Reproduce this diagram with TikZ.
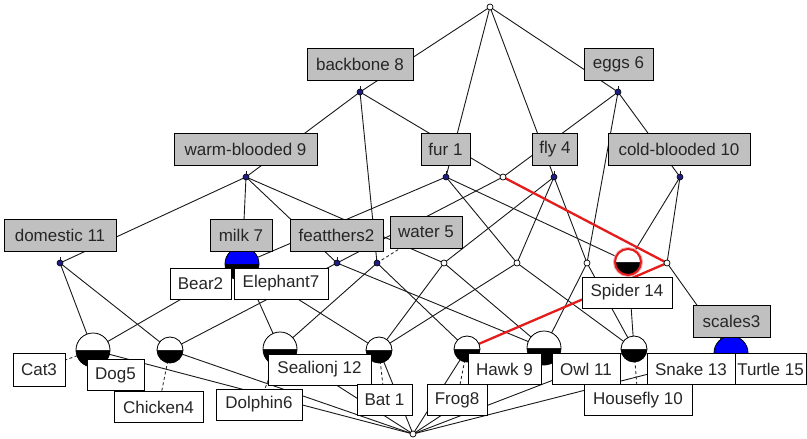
\documentclass[tikz,border=0pt]{standalone}
\usepackage{fontspec}
\setmainfont{Liberation Sans}
\definecolor{attrgray}{RGB}{192,192,192}
\definecolor{hired}{RGB}{228,28,28}
\definecolor{nodeblue}{RGB}{0,0,255}
\definecolor{smallblue}{RGB}{30,30,130}
\newcommand\bigconcept[5]{%
  \fill[black] (#1) circle[radius=#4pt];
  \fill[#5] ([xshift=-#4pt]#1) arc[start angle=180,end angle=0,radius=#4pt] -- cycle;
  \draw[line width=0.8pt] (#1) circle[radius=#4pt];
  \node[circle,inner sep=0pt,minimum size=#3pt] (#2) at (#1) {};
}
\begin{document}
\begin{tikzpicture}[x=1pt,y=-1pt,
  edge/.style={draw=black!90, line width=0.9pt},
  hledge/.style={draw=hired, line width=2.3pt},
  conn/.style={draw=black!85, line width=0.85pt, dash pattern=on 3pt off 2.5pt},
  smallattr/.style={circle, draw=black, fill=smallblue, inner sep=0pt, minimum size=6pt, line width=0.6pt},
  smallplain/.style={circle, draw=black, fill=white, inner sep=0pt, minimum size=6pt, line width=0.7pt},
  lbl/.style={draw=black, line width=0.9pt, inner xsep=2pt, inner ysep=0pt, minimum height=32pt,
    font=\fontsize{17pt}{20pt}\selectfont, text=black!85},
  attrlbl/.style={lbl, fill=attrgray},
  objlbl/.style={lbl, fill=white, minimum height=31pt},
]
\useasboundingbox[fill=white] (0,0) rectangle (807,439);
% concept positions
\coordinate (T) at (490,7);
\coordinate (B) at (360,92);
\coordinate (E) at (618,92);
\coordinate (W) at (246,177);
\coordinate (F) at (446,177);
\coordinate (X) at (503,177);
\coordinate (Fl) at (554,177);
\coordinate (C) at (680,177);
\coordinate (D) at (60,263);
\coordinate (M) at (242,264);
\coordinate (Fe) at (337,263);
\coordinate (Wa) at (377,263);
\coordinate (N1) at (444,263);
\coordinate (N2) at (517,263);
\coordinate (N3) at (587,263);
\coordinate (Sp) at (628,262);
\coordinate (Y) at (667,263);
\coordinate (Dg) at (93,350);
\coordinate (Ch) at (170,350);
\coordinate (Se) at (280,349);
\coordinate (Bt) at (379,350);
\coordinate (Fr) at (467,349);
\coordinate (Ow) at (544,348);
\coordinate (Hf) at (634,349);
\coordinate (Sc) at (731,353);
\coordinate (Bot) at (413,434);
% label centres
\coordinate (cwater) at (426,232);
\coordinate (ccat) at (39,369.5);
\coordinate (cchicken) at (158.5,407);
\coordinate (cdolphin) at (259,404.5);
\coordinate (cbat) at (384.5,399.5);
\coordinate (cfrog) at (457,400);
\coordinate (chousefly) at (638,400);
% edges
\foreach \a/\b in {T/B,T/F,T/Fl,T/E,B/W,B/X,B/Wa,E/X,E/N3,E/C,W/D,W/M,W/Fe,W/N1,
  F/M,F/Sp,F/N2,X/Fe,Fl/N1,Fl/N2,Fl/N3,C/Y,C/Sp,D/Dg,D/Ch,M/Dg,M/Se,M/Bt,Fe/Ch,Fe/Ow,
  Wa/Se,Wa/Fr,N1/Bt,N1/Ow,N2/Bt,N2/Hf,N3/Ow,N3/Hf,Sp/Hf,Y/Sc,
  Bot/Dg,Bot/Ch,Bot/Se,Bot/Bt,Bot/Fr,Bot/Ow,Bot/Hf,Bot/Sc}
  \draw[edge] (\a) -- (\b);
\draw[hledge, line join=round] (X) -- (Y) -- (Fr);
% ticks above attribute nodes
\foreach \a in {B,E,W,F,Fl,C,D,Fe}
  \draw[edge] (\a) -- ++(0,-6);
% dashed label connectors
\draw[conn] (Wa) -- (cwater);
\draw[conn] (Dg) -- (ccat);
\draw[conn] (Ch) -- (cchicken);
\draw[conn] (Se) -- (cdolphin);
\draw[conn] (Bt) -- (cbat);
\draw[conn] (Fr) -- (cfrog);
\draw[conn] (Hf) -- (chousefly);
% small concept nodes
\node[smallplain] (nT) at (T) {};
\node[smallplain] (nX) at (X) {};
\node[smallplain] (nN1) at (N1) {};
\node[smallplain] (nN2) at (N2) {};
\node[smallplain] (nN3) at (N3) {};
\node[smallplain] (nY) at (Y) {};
\node[smallplain] (nBot) at (Bot) {};
\node[smallattr] (nB) at (B) {};
\node[smallattr] (nE) at (E) {};
\node[smallattr] (nW) at (W) {};
\node[smallattr] (nF) at (F) {};
\node[smallattr] (nFl) at (Fl) {};
\node[smallattr] (nC) at (C) {};
\node[smallattr] (nD) at (D) {};
\node[smallattr] (nFe) at (Fe) {};
\node[smallattr] (nWa) at (Wa) {};
% big concept nodes
\bigconcept{M}{nM}{34}{17}{nodeblue}
\bigconcept{Dg}{nDg}{34}{17}{white}
\bigconcept{Ch}{nCh}{26}{13}{white}
\bigconcept{Se}{nSe}{34}{17}{white}
\bigconcept{Bt}{nBt}{26}{13}{white}
\bigconcept{Fr}{nFr}{26}{13}{white}
\bigconcept{Ow}{nOw}{34}{17}{white}
\bigconcept{Hf}{nHf}{26}{13}{white}
\bigconcept{Sc}{nSc}{34}{17}{nodeblue}
\draw[hired!35, line width=4pt] (Sp) circle[radius=13pt];
\bigconcept{Sp}{nSp}{26}{13}{white}
\draw[hired, line width=2pt] (Sp) circle[radius=13pt];
% attribute labels
\node[attrlbl, minimum width=106pt] (lbackbone) at (360,64) {backbone 8};
\node[attrlbl, minimum width=69pt] (leggs) at (618.5,64) {eggs 6};
\node[attrlbl, minimum width=143pt] (lwarm) at (245.5,149) {warm-blooded 9};
\node[attrlbl, minimum width=49pt] (lfur) at (445.5,149) {fur 1};
\node[attrlbl, minimum width=45pt] (lfly) at (555,149) {fly 4};
\node[attrlbl, minimum width=142pt] (lcold) at (679,149) {cold-blooded 10};
\node[attrlbl, minimum width=112pt] (ldomestic) at (60,235) {domestic 11};
\node[attrlbl, minimum width=62pt] (lmilk) at (241,235) {milk 7};
\node[attrlbl, minimum width=93pt] (lfeathers) at (336.5,235) {featthers2};
\node[attrlbl, minimum width=72pt] (lwater) at (cwater) {water 5};
\node[attrlbl, minimum width=77pt] (lscales) at (731.5,321) {scales3};
% object labels
\node[objlbl, minimum width=61pt] (lbear) at (200.5,283.5) {Bear2};
\node[objlbl, minimum width=94pt] (lelephant) at (281,283.5) {Elephant7};
\node[objlbl, minimum width=90pt] (lspider) at (627,292.5) {Spider 14};
\node[objlbl, minimum width=52pt, minimum height=33pt] (lcat) at (ccat) {Cat3};
\node[objlbl, minimum width=57pt] (ldog) at (115.5,375) {Dog5};
\node[objlbl, minimum width=89pt] (lchicken) at (cchicken) {Chicken4};
\node[objlbl, minimum width=86pt] (ldolphin) at (cdolphin) {Dolphin6};
\node[objlbl, minimum width=103pt] (lsealion) at (319.5,369.5) {Sealionj 12};
\node[objlbl, minimum width=55pt] (lbat) at (cbat) {Bat 1};
\node[objlbl, minimum width=60pt] (lfrog) at (cfrog) {Frog8};
\node[objlbl, minimum width=73pt] (lhawk) at (504.5,369) {Hawk 9};
\node[objlbl, minimum width=68pt] (lowl) at (586,369) {Owl 11};
\node[objlbl, minimum width=108pt] (lhousefly) at (chousefly) {Housefly 10};
\node[objlbl, minimum width=88pt] (lsnake) at (691,369) {Snake 13};
\node[objlbl, minimum width=71pt] (lturtle) at (770.5,369) {Turtle 15};
\end{tikzpicture}
\end{document}
